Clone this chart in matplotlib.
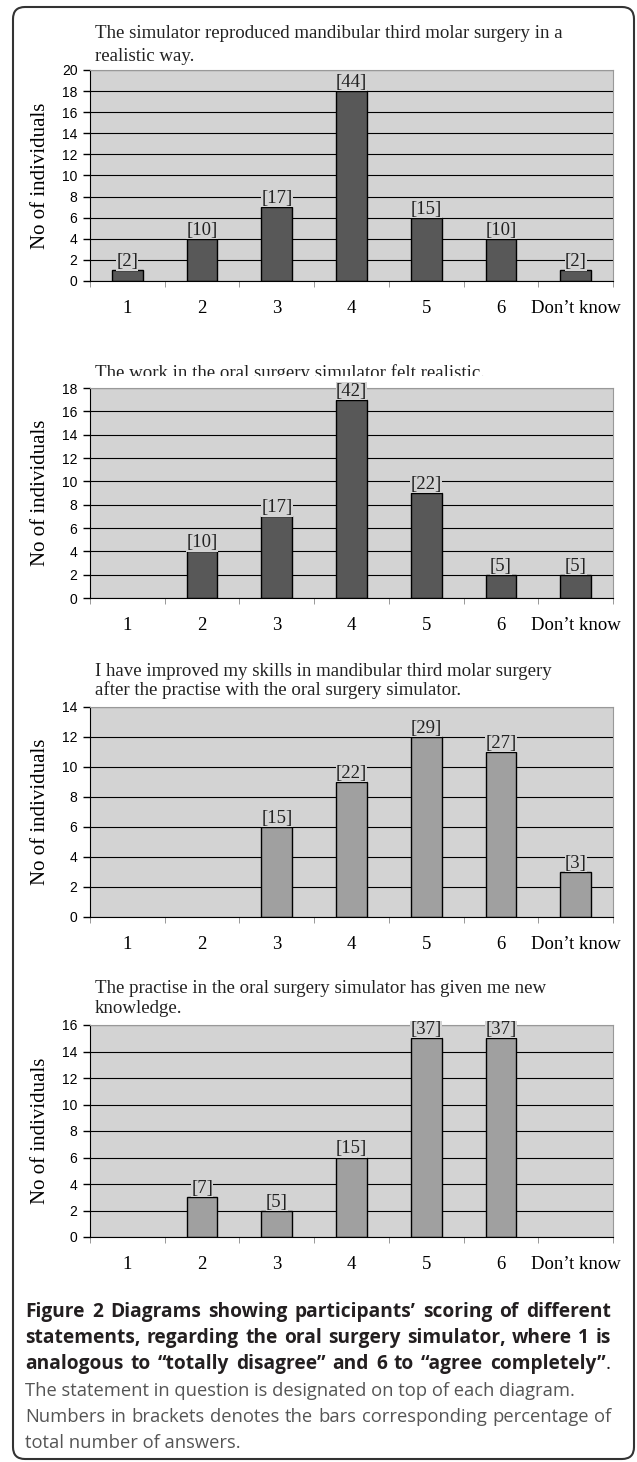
import matplotlib
matplotlib.use('Agg')
import matplotlib.pyplot as plt
from matplotlib.patches import FancyBboxPatch
from matplotlib.transforms import Bbox, TransformedBbox, IdentityTransform
import numpy as np

# data
categories = ['1', '2', '3', '4', '5', '6', 'Don\u2019t know']

title1 = ['The simulator reproduced mandibular third molar surgery in a', 'realistic way.']
title2 = ['The work in the oral surgery simulator felt realistic.']
title3 = ['I have improved my skills in mandibular third molar surgery',
          'after the practise with the oral surgery simulator.']
title4 = ['The practise in the oral surgery simulator has given me new', 'knowledge.']

counts1 = [1, 4, 7, 18, 6, 4, 1]
pct1 = ['2', '10', '17', '44', '15', '10', '2']
counts2 = [0, 4, 7, 17, 9, 2, 2]
pct2 = ['', '10', '17', '42', '22', '5', '5']
counts3 = [0, 0, 6, 9, 12, 11, 3]
pct3 = ['', '', '15', '22', '29', '27', '3']
counts4 = [0, 3, 2, 6, 15, 15, 0]
pct4 = ['', '7', '5', '15', '37', '37', '']
ymax = [20, 18, 14, 16]

caption_bold = ['Figure 2 Diagrams showing participants\u2019 scoring of different',
                'statements, regarding the oral surgery simulator, where 1 is',
                'analogous to \u201ctotally disagree\u201d and 6 to \u201cagree completely\u201d']
caption_text = ['The statement in question is designated on top of each diagram.',
                'Numbers in brackets denotes the bars corresponding percentage of',
                'total number of answers.']

W, H = 637, 1462
SERIF = 'Liberation Serif'
SANS = 'Liberation Sans'
BG = '#d3d3d3'

fig = plt.figure(figsize=(W / 100, H / 100), dpi=100)
renderer = fig.canvas.get_renderer()


def fy(y):
    # pixel row (from top) -> figure fraction
    return 1 - y / H


def panel(top, bottom, counts, pct, top_val, color):
    ax = fig.add_axes([90 / W, fy(bottom), (613 - 90) / W, (bottom - top) / H])
    ax.set_facecolor(BG)
    x = np.arange(len(categories))
    bars = ax.bar(x, counts, width=0.41, color=color, edgecolor='black', linewidth=1, zorder=2)
    for i in range(len(counts)):
        if counts[i] == 0:
            bars[i].set_visible(False)
        if pct[i]:
            ax.text(x[i], counts[i], '[' + pct[i] + ']', ha='center', va='bottom',
                    fontsize=13.5, family=SERIF, color='#222222', zorder=3,
                    bbox=dict(facecolor=BG, edgecolor='none', pad=0.2))
    ax.set_xlim(-0.5, len(categories) - 0.5)
    ax.set_ylim(0, top_val)
    ax.set_yticks(range(0, top_val + 1, 2))
    ax.set_xticks(x)
    ax.set_xticklabels(categories, family=SERIF, fontsize=13.5)
    ax.set_xticks(np.arange(-0.5, len(categories), 1), minor=True)
    ax.tick_params(axis='x', which='major', length=0, pad=14)
    ax.tick_params(axis='x', which='minor', length=4, color='#888888')
    ax.tick_params(axis='y', length=5, width=1, pad=4, labelsize=10)
    for lab in ax.get_yticklabels():
        lab.set_family(SANS)
    ax.set_axisbelow(True)
    ax.yaxis.grid(True, color='black', linewidth=0.8)
    ax.spines['left'].set_color('black')
    ax.spines['bottom'].set_color('black')
    ax.spines['top'].set_color('#999999')
    ax.spines['right'].set_color('#999999')
    ax.spines['top'].set_linewidth(0.8)
    ax.spines['right'].set_linewidth(0.8)
    ax.set_ylabel('No of individuals', family=SERIF, fontsize=15, va='center')
    ax.yaxis.set_label_coords(-0.095, 0.5)
    return ax


def justify(line, base, x0, x1, **kw):
    # spread the words of a caption line between x0 and x1 (pixels)
    words = line.split(' ')
    texts = [fig.text(0, fy(base), w, va='baseline', **kw) for w in words]
    widths = [t.get_window_extent(renderer).width for t in texts]
    gap = (x1 - x0 - sum(widths)) / (len(words) - 1)
    xpos = x0
    for t, w in zip(texts, widths):
        t.set_x(xpos / W)
        xpos += w + gap
    return texts


panel(70, 281, counts1, pct1, ymax[0], '#585858')
panel(388, 598, counts2, pct2, ymax[1], '#585858')
panel(707, 917, counts3, pct3, ymax[2], '#a0a0a0')
panel(1025, 1237, counts4, pct4, ymax[3], '#a0a0a0')

# statements above each diagram (baselines in pixels)
for lines, bases in [(title1, [38, 61]), (title3, [676, 695]), (title4, [993, 1013])]:
    for s, b in zip(lines, bases):
        fig.text(95 / W, fy(b), s, family=SERIF, fontsize=13.6, va='baseline', color='#222222')

# second statement is cut off at the bottom in the original
t = fig.text(95 / W, fy(378), title2[0], family=SERIF, fontsize=13.6, va='baseline', color='#222222')
t.set_clip_box(TransformedBbox(Bbox([[0, fy(376)], [1, 1]]), fig.transFigure))
t.set_clip_on(True)

# caption
bold_kw = dict(family='Open Sans', fontweight='bold', fontsize=13.8, color='#231f20')
justify(caption_bold[0], 1317, 25, 611, **bold_kw)
justify(caption_bold[1], 1343, 25, 611, **bold_kw)
last = justify(caption_bold[2], 1369, 25, 606, **bold_kw)[-1]
fig.text(last.get_window_extent(renderer).x1 / W, fy(1369), '.', va='baseline',
         family='Open Sans', fontsize=13.8, color='#231f20')

reg_kw = dict(family='Open Sans', fontsize=13.2, color='#555555')
fig.text(25 / W, fy(1396), caption_text[0], va='baseline', **reg_kw)
justify(caption_text[1], 1422, 25, 611, **reg_kw)
fig.text(25 / W, fy(1448), caption_text[2], va='baseline', **reg_kw)

# rounded frame around the whole figure
frame = FancyBboxPatch((13, H - 1459), 621, 1452, boxstyle='round,pad=0,rounding_size=12',
                       transform=IdentityTransform(), facecolor='none',
                       edgecolor='#333333', linewidth=1.5)
fig.patches.append(frame)

fig.savefig('out.png', dpi=100)
